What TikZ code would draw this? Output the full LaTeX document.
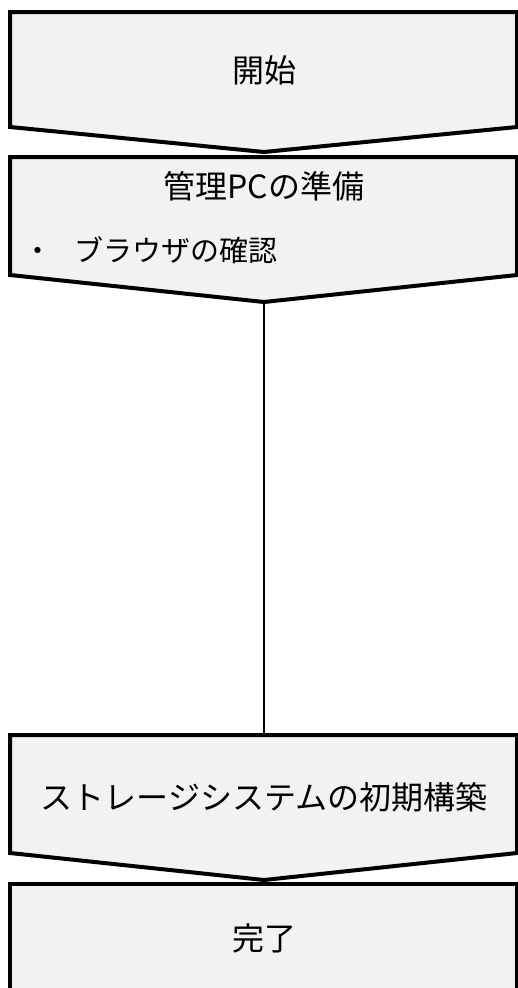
\documentclass[tikz,border=0pt]{standalone}
\usepackage{fontspec}
\newfontfamily\jpfont{Noto Sans CJK JP}
\usetikzlibrary{calc}
\definecolor{ink}{HTML}{000000}
\definecolor{boxfill}{HTML}{F2F2F2}
\tikzset{
  chev/.style={draw=ink, fill=boxfill, line width=4pt, line join=miter},
  flow/.style={draw=ink, line width=2pt},
  lab/.style={text=ink, inner sep=0pt, font=\jpfont\fontsize{32}{38}\selectfont},
}
\begin{document}
\begin{tikzpicture}[x=1pt,y=-1pt]
  \useasboundingbox (0,0) rectangle (518,988);
  \clip (0,0) rectangle (518,988);

  \coordinate (starttip) at (264,152);
  \coordinate (preptip) at (264,302);
  \coordinate (buildtop) at (264,735);
  \coordinate (buildtip) at (264,880);

  % steps
  \draw[chev] (10,12) -- (517,12) -- (517,127) -- (starttip) -- (10,127) -- cycle;
  \draw[chev] (10,157) -- (517,157) -- (517,275) -- (preptip) -- (10,275) -- cycle;
  \draw[chev] (10,735) -- (517,735) -- (517,853) -- (buildtip) -- (10,853) -- cycle;
  \draw[chev] (10,884) -- (517,884) -- (517,1010) -- (10,1010) -- cycle;

  \node[lab] (start) at (264,70) {開始};
  \node[lab] (prep) at (264,186) {管理PCの準備};
  \node[lab,anchor=west,font=\jpfont\fontsize{29}{34}\selectfont] (prepitem) at (23,250) {・\hspace{22pt}ブラウザの確認};
  \node[lab] (build) at (264,797) {ストレージシステムの初期構築};
  \node[lab] (done) at (264,938) {完了};

  \draw[flow] (preptip) -- (buildtop);
\end{tikzpicture}
\end{document}
